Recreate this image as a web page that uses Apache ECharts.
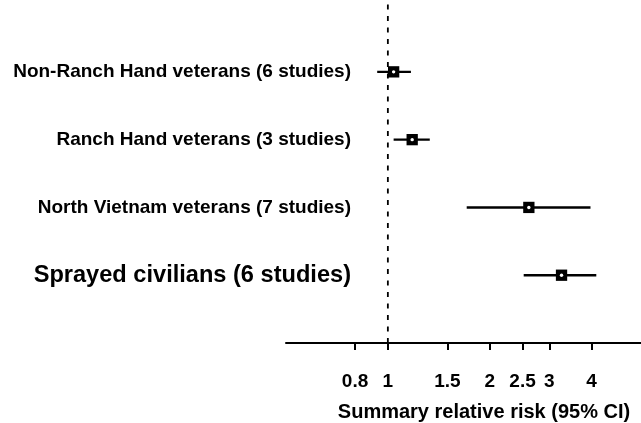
<!DOCTYPE html>
<html>
<head>
<meta charset="utf-8">
<title>Summary relative risk</title>
<script src="https://cdn.jsdelivr.net/npm/echarts@6/dist/echarts.min.js"></script>
<style>
  html, body { margin: 0; padding: 0; background: #fff; }
  #chart { width: 641px; height: 423px; }
</style>
</head>
<body>
<div id="chart"></div>
<script>
// Subgroups, top to bottom
const groups = [
  'Non-Ranch Hand veterans (6 studies)',
  'Ranch Hand veterans (3 studies)',
  'North Vietnam veterans (7 studies)',
  'Sprayed civilians (6 studies)'
];
// Summary relative risk with 95% confidence limits
const estimates = [1.04, 1.18, 2.61, 3.26];
const lowerCI   = [0.93, 1.04, 1.71, 2.52];
const upperCI   = [1.17, 1.33, 3.97, 4.13];
// Tick values of the log-scaled risk axis
const xTicks = [0.8, 1, 1.5, 2, 2.5, 3, 4];
// Line of no effect
const nullValue = [1];

const FONT = '"Liberation Sans", Arial, Helvetica, sans-serif';
const Y_MAX = 5.06;
const n = groups.length;

// [estimate, lower, upper, row position] — first group drawn at the top
const rows = groups.map((g, i) => [estimates[i], lowerCI[i], upperCI[i], n - i]);

const chart = echarts.init(document.getElementById('chart'), null, { renderer: 'canvas' });

chart.setOption({
  animation: false,
  backgroundColor: '#fff',
  textStyle: { fontFamily: FONT },
  grid: { left: 286, right: -41, top: 0, bottom: 80, outerBoundsMode: 'none' },
  xAxis: {
    type: 'log',
    logBase: 10,
    min: 0.5,
    max: 7.4,
    splitLine: { show: false },
    axisLine: { show: true, lineStyle: { color: '#000', width: 2 } },
    axisTick: { show: true, customValues: xTicks, length: 7, lineStyle: { color: '#000', width: 2 } },
    axisLabel: {
      customValues: xTicks,
      margin: 29,
      color: '#000',
      fontFamily: FONT,
      fontWeight: 'bold',
      fontSize: 19,
      formatter: v => String(Math.round(v * 100) / 100)
    },
    name: 'Summary relative risk (95% CI)',
    nameLocation: 'middle',
    nameGap: 59,
    nameTextStyle: { color: '#000', fontFamily: FONT, fontWeight: 'bold', fontSize: 20 }
  },
  yAxis: {
    type: 'value',
    min: 0,
    max: Y_MAX,
    interval: 1,
    offset: -65,
    splitLine: { show: false },
    axisLine: { show: false },
    axisTick: { show: false },
    axisLabel: {
      margin: 0,
      color: '#000',
      fontFamily: FONT,
      fontWeight: 'bold',
      fontSize: 19,
      formatter: v => {
        const i = n - Math.round(v);
        if (i < 0 || i >= n || Math.round(v) < 1) return '';
        return i === n - 1 ? '{big|' + groups[i] + '}' : groups[i];
      },
      rich: {
        big: { fontFamily: FONT, fontWeight: 'bold', fontSize: 23.6, color: '#000' }
      }
    }
  },
  series: [
    {
      // dashed reference line at relative risk = 1
      type: 'line',
      data: [[nullValue[0], 0], [nullValue[0], Y_MAX]],
      symbol: 'none',
      silent: true,
      lineStyle: { color: '#000', width: 1.8, type: [5, 6.5] },
      z: 1
    },
    {
      type: 'custom',
      data: rows,
      encode: { x: [0, 1, 2], y: 3 },
      z: 3,
      renderItem: (params, api) => {
        const y = api.value(3);
        const c = api.coord([api.value(0), y]);
        const lo = api.coord([api.value(1), y]);
        const hi = api.coord([api.value(2), y]);
        const s = 11.3;
        return {
          type: 'group',
          children: [
            { type: 'line', shape: { x1: lo[0], y1: lo[1], x2: hi[0], y2: hi[1] },
              style: { stroke: '#000', lineWidth: 2.4 } },
            { type: 'rect', shape: { x: c[0] - s / 2, y: c[1] - s / 2, width: s, height: s },
              style: { fill: '#000' } },
            { type: 'circle', shape: { cx: c[0], cy: c[1], r: 1.7 },
              style: { fill: '#fff' } }
          ]
        };
      }
    }
  ]
});
</script>
</body>
</html>
